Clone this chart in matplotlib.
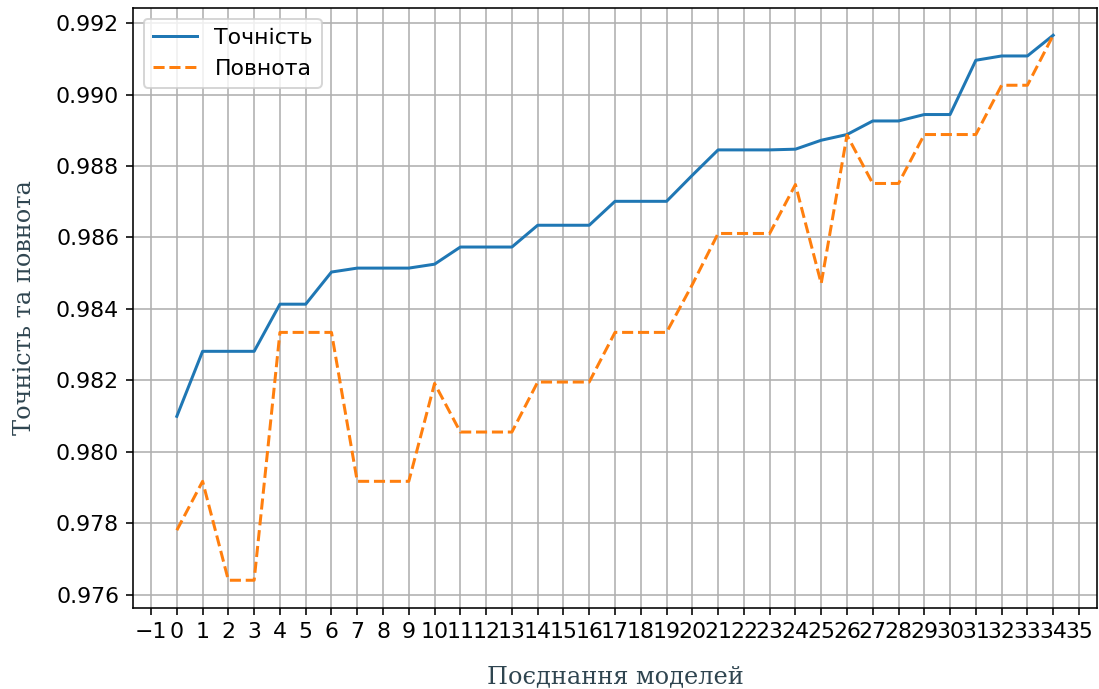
import matplotlib.pyplot as plt
from matplotlib.ticker import MultipleLocator

# model combinations, sorted by precision
combos = list(range(35))
precision = [0.98099, 0.98281, 0.98281, 0.98281, 0.98413, 0.98413, 0.98503,
             0.98514, 0.98514, 0.98514, 0.98525, 0.98573, 0.98573, 0.98573,
             0.98634, 0.98634, 0.98634, 0.98701, 0.98701, 0.98701, 0.98774,
             0.98845, 0.98845, 0.98845, 0.98847, 0.98872, 0.98888, 0.98926,
             0.98926, 0.98944, 0.98944, 0.99096, 0.99108, 0.99108, 0.99166]
recall = [0.97780, 0.97917, 0.97640, 0.97640, 0.98334, 0.98334, 0.98334,
          0.97917, 0.97917, 0.97917, 0.98191, 0.98055, 0.98055, 0.98055,
          0.98195, 0.98195, 0.98195, 0.98334, 0.98334, 0.98334, 0.98468,
          0.98611, 0.98611, 0.98611, 0.98748, 0.98471, 0.98886, 0.98751,
          0.98751, 0.98888, 0.98888, 0.98888, 0.99026, 0.99026, 0.99166]

plt.rcParams['font.size'] = 11

dpi = 144
fig, ax = plt.subplots(figsize=(1099 / dpi, 689 / dpi), dpi=dpi)
fig.subplots_adjust(left=133 / 1099, right=1097 / 1099, top=1 - 8 / 689, bottom=1 - 607.5 / 689)

ax.plot(combos, precision, label='Точність')
ax.plot(combos, recall, '--', label='Повнота')

ax.xaxis.set_major_locator(MultipleLocator(1))
ax.grid(True)
ax.legend(loc='upper left')

label_font = {'family': 'DejaVu Serif', 'color': '#2f4550', 'size': 12}
ax.set_xlabel('Поєднання моделей', fontdict=label_font, labelpad=12)
ax.set_ylabel('Точність та повнота', fontdict=label_font, labelpad=10)

fig.savefig('out.png', dpi=dpi)
